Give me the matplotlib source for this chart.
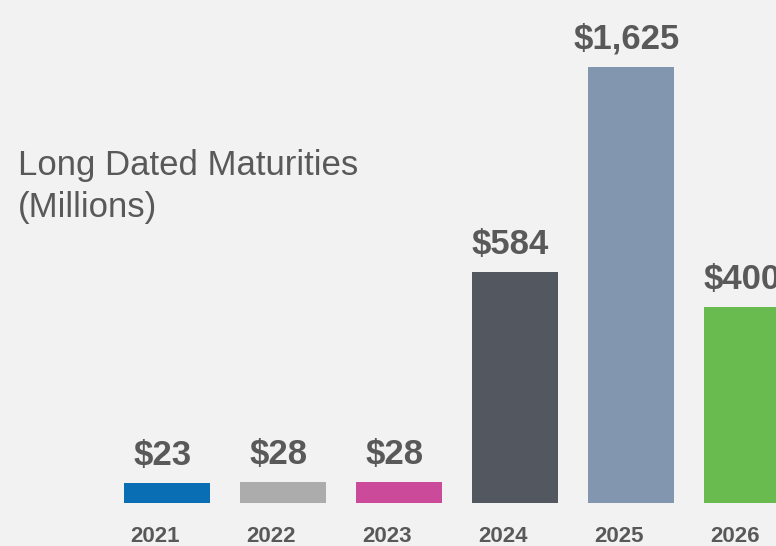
import matplotlib
matplotlib.use('Agg')
import matplotlib.pyplot as plt

# Years and labelled amounts (millions)
years = ['2021', '2022', '2023', '2024', '2025', '2026']
labels = ['$23', '$28', '$28', '$584', '$1,625', '$400']
# Drawn bar heights as they appear in the slide (not to scale with the amounts)
heights = [20, 21, 21, 231, 436, 196]
colors = ['#0A6EB4', '#ABACAB', '#CC4A9A', '#525760', '#8296B0', '#69BB50']

plt.rcParams['font.family'] = ['Liberation Sans', 'DejaVu Sans']
TEXT = '#595959'
BG = '#F2F2F2'

fig = plt.figure(figsize=(7.76, 5.46), dpi=100, facecolor=BG)
ax = fig.add_axes([0, 0, 1, 1])
ax.set_facecolor(BG)

x = list(range(len(years)))
ax.bar(x, heights, width=0.74, color=colors)

# Value labels above each bar (sit a touch left of centre on the slide)
for xi, h, lab in zip(x, heights, labels):
    ax.text(xi - 0.04, h + 18, lab, ha='center', va='baseline',
            fontsize=25, fontweight='bold', color=TEXT)

# Year labels under the bars, also nudged left
for xi, yr in zip(x, years):
    ax.text(xi - 0.1, -33, yr, ha='center', va='center',
            fontsize=16, fontweight='bold', color=TEXT)

ax.set_xlim(-167 / 116, (776 - 167) / 116)
ax.set_ylim(-43, 503)
ax.axis('off')

# Title block on the left
fig.text(18 / 776, 1 - 175 / 546, 'Long Dated Maturities', ha='left',
         va='baseline', fontsize=25, color=TEXT)
fig.text(18 / 776, 1 - 217 / 546, '(Millions)', ha='left',
         va='baseline', fontsize=25, color=TEXT)

fig.savefig('out.png', dpi=100, facecolor=BG)
